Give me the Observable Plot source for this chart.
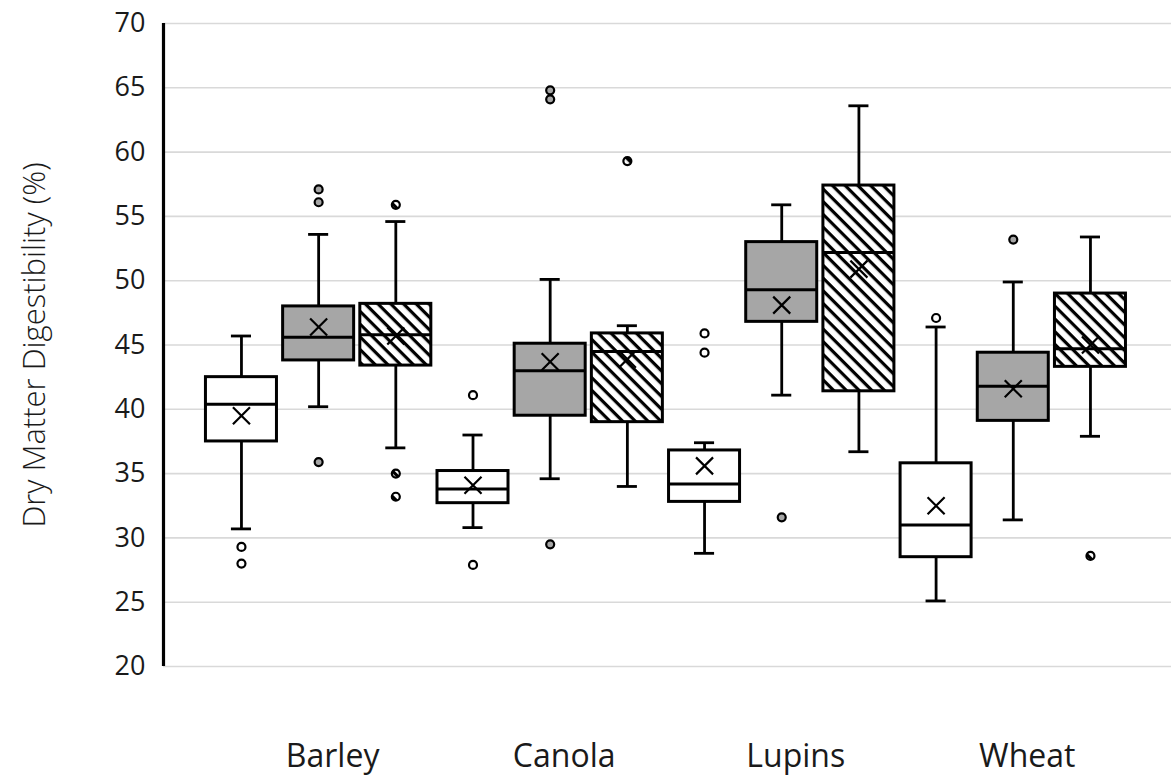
<!DOCTYPE html>
<html>
<head>
<meta charset="utf-8">
<script src="https://cdn.jsdelivr.net/npm/d3@7"></script>
<script src="https://cdn.jsdelivr.net/npm/@observablehq/plot@0.6"></script>
<style>
  html, body { margin: 0; padding: 0; background: #ffffff; }
  #chart svg { display: block; }
</style>
</head>
<body>
<div id="chart"></div>
<script>
// Crops and the three treatments drawn within each crop group
const categories = ["Barley", "Canola", "Lupins", "Wheat"];
const series = ["open", "grey", "hatched"];

// Box summaries, listed crop by crop, treatment by treatment
const whiskerLow  = [30.7, 40.2, 37.0,  30.8, 34.6, 34.0,  28.8, 41.1, 36.7,  25.1, 31.4, 37.9];
const quartile1   = [37.5, 43.8, 43.4,  32.7, 39.5, 39.0,  32.8, 46.8, 41.4,  28.5, 39.1, 43.3];
const median      = [40.4, 45.6, 45.8,  33.8, 43.0, 44.5,  34.2, 49.3, 52.2,  31.0, 41.8, 44.7];
const quartile3   = [42.5, 48.0, 48.2,  35.2, 45.1, 45.9,  36.8, 53.0, 57.4,  35.8, 44.4, 49.0];
const whiskerHigh = [45.7, 53.6, 54.6,  38.0, 50.1, 46.5,  37.4, 55.9, 63.6,  46.4, 49.9, 53.4];
const mean        = [39.5, 46.4, 45.7,  34.1, 43.7, 43.9,  35.6, 48.1, 50.9,  32.5, 41.6, 45.0];
const outliers    = [
  [29.3, 28.0], [57.1, 56.1, 35.9], [55.9, 35.0, 33.2],
  [41.1, 27.9], [64.8, 64.1, 29.5], [59.3],
  [45.9, 44.4], [31.6], [],
  [47.1], [53.2], [28.6]
];

const yTicks = [20, 25, 30, 35, 40, 45, 50, 55, 60, 65, 70];
const yLabel = "Dry Matter Digestibility (%)";

// Fill used for each treatment
const seriesFill = {open: "#ffffff", grey: "#a6a6a6", hatched: "url(#diag-hatch)"};

// One row per box; slot is the box's position along the x axis
const boxes = whiskerLow.map((lo, k) => ({
  crop: categories[Math.floor(k / series.length)],
  series: series[k % series.length],
  slot: k,
  lo, q1: quartile1[k], med: median[k], q3: quartile3[k], hi: whiskerHigh[k], mean: mean[k]
}));
const outlierRows = boxes.flatMap((b, k) => outliers[k].map(v => ({slot: b.slot, series: b.series, value: v})));

const groupCenters = categories.map((c, i) => i * series.length + (series.length - 1) / 2);

const halfBox = 0.46;   // half box width, in slot units
const halfCap = 0.13;   // half whisker-cap width, in slot units

// Diagonal hatch pattern definition
const hatchDefs = () => {
  const g = d3.create("svg:g");
  const p = g.append("defs").append("pattern")
    .attr("id", "diag-hatch")
    .attr("patternUnits", "userSpaceOnUse")
    .attr("width", 9).attr("height", 9)
    .attr("patternTransform", "rotate(45)");
  p.append("rect").attr("width", 9).attr("height", 9).attr("fill", "#ffffff");
  p.append("rect").attr("y", 0).attr("width", 9).attr("height", 3.2).attr("fill", "#000000");
  return g.node();
};

const chart = Plot.plot({
  width: 1171,
  height: 776,
  marginLeft: 163,
  marginRight: 0,
  marginTop: 23,
  marginBottom: 110,
  style: {fontFamily: "'Open Sans', 'Noto Sans', sans-serif", color: "#1a1a1a", background: "#ffffff"},
  x: {type: "linear", domain: [-1.01, 12.05], axis: null},
  y: {domain: [20, 70], axis: null},
  color: {type: "identity"},
  marks: [
    hatchDefs,
    Plot.ruleY(yTicks, {stroke: "#d9d9d9", strokeWidth: 1.6}),
    Plot.ruleX([-1.01], {y1: 20, y2: 70, stroke: "#000000", strokeWidth: 3.2}),
    // whiskers
    Plot.ruleX(boxes, {x: "slot", y1: "lo", y2: "q1", stroke: "#000000", strokeWidth: 2.8}),
    Plot.ruleX(boxes, {x: "slot", y1: "q3", y2: "hi", stroke: "#000000", strokeWidth: 2.8}),
    Plot.ruleY(boxes, {y: "lo", x1: d => d.slot - halfCap, x2: d => d.slot + halfCap, stroke: "#000000", strokeWidth: 2.8}),
    Plot.ruleY(boxes, {y: "hi", x1: d => d.slot - halfCap, x2: d => d.slot + halfCap, stroke: "#000000", strokeWidth: 2.8}),
    // boxes
    Plot.rect(boxes, {
      x1: d => d.slot - halfBox, x2: d => d.slot + halfBox, y1: "q1", y2: "q3",
      fill: d => seriesFill[d.series], stroke: "#000000", strokeWidth: 3
    }),
    Plot.ruleY(boxes, {y: "med", x1: d => d.slot - halfBox, x2: d => d.slot + halfBox, stroke: "#000000", strokeWidth: 3}),
    // means
    Plot.dot(boxes, {x: "slot", y: "mean", symbol: "times", r: 7.8, stroke: "#000000", strokeWidth: 2.2}),
    // outliers
    Plot.dot(outlierRows, {x: "slot", y: "value", r: 4, fill: d => seriesFill[d.series], stroke: "#000000", strokeWidth: 2.2}),
    // axes
    Plot.axisY({ticks: yTicks, tickSize: 0, tickPadding: 18, fontSize: 27, label: null}),
    Plot.axisX({
      ticks: groupCenters, tickFormat: v => categories[Math.round((v - 1) / series.length)],
      tickSize: 0, tickPadding: 78, fontSize: 32, dx: 14, label: null
    }),
    Plot.text([yLabel], {
      frameAnchor: "left", dx: -128, rotate: -90, textAnchor: "middle", lineAnchor: "middle",
      fontSize: 31, fontWeight: 300, fill: "#1a1a1a"
    })
  ]
});

document.getElementById("chart").append(chart);
</script>
</body>
</html>
